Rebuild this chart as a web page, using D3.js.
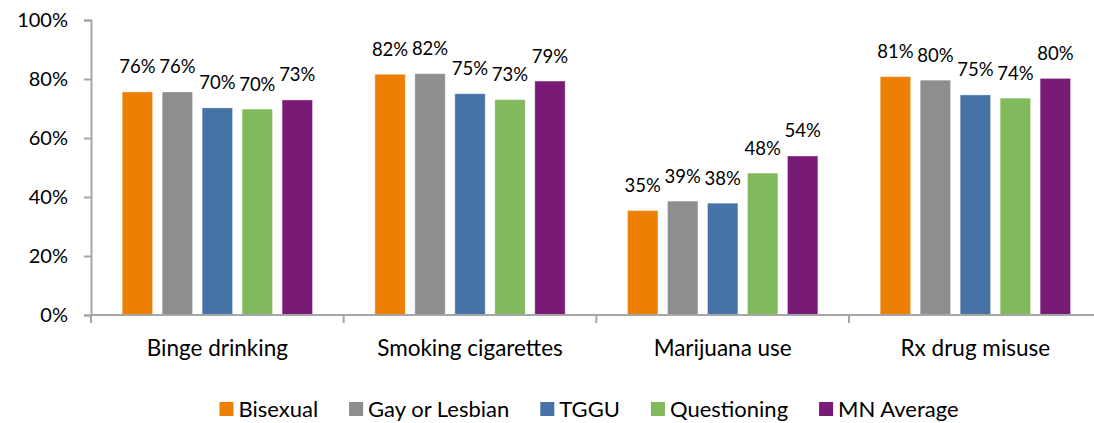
<!DOCTYPE html>
<html>
<head>
<meta charset="utf-8">
<script src="https://cdn.jsdelivr.net/npm/d3@7"></script>
<style>
  body { margin: 0; background: #fff; }
  svg { display: block; font-family: Lato, "Open Sans", sans-serif; }
</style>
</head>
<body>
<svg id="chart" width="1094" height="423"></svg>
<script>
// chart data
const categories = ["Binge drinking", "Smoking cigarettes", "Marijuana use", "Rx drug misuse"];
const seriesNames = ["Bisexual", "Gay or Lesbian", "TGGU", "Questioning", "MN Average"];
const bisexual = [75.6, 81.6, 35.4, 80.8];
const gayLesbian = [75.6, 81.8, 38.6, 79.6];
const tggu = [70.2, 75.0, 37.9, 74.6];
const questioning = [69.8, 73.0, 48.1, 73.5];
const mnAverage = [72.9, 79.3, 53.9, 80.2];
const yTicks = [0, 20, 40, 60, 80, 100];

const seriesValues = [bisexual, gayLesbian, tggu, questioning, mnAverage];
const colors = ["#ED7F05", "#8E8E8E", "#4572A7", "#80BA5C", "#7A1A77"];

const svg = d3.select("#chart");
const axisColor = "#A6A6A6";

const x0 = d3.scaleBand()
	.domain(categories)
	.range([91, 1101.7]);

const x1 = d3.scaleBand()
	.domain(seriesNames)
	.range([0, x0.bandwidth()])
	.paddingInner(0.24)
	.paddingOuter(0.78);

const y = d3.scaleLinear()
	.domain([0, 100])
	.range([315, 20]);

// rows for drawing
const rows = [];
categories.forEach((c, ci) => {
	seriesNames.forEach((s, si) => {
		rows.push({cat: c, series: s, value: seriesValues[si][ci], color: colors[si]});
	});
});

// y axis
const yAxis = d3.axisLeft(y)
	.tickValues(yTicks)
	.tickSize(7)
	.tickPadding(16)
	.tickFormat(d => d + "%");

const yg = svg.append("g")
	.attr("transform", "translate(91,0)")
	.call(yAxis);
yg.select(".domain").attr("stroke", axisColor).attr("stroke-width", 2);
yg.selectAll(".tick line").attr("stroke", axisColor).attr("stroke-width", 2);
yg.selectAll(".tick text")
	.attr("fill", "#000")
	.style("font-size", "20px")
	.style("font-family", "Lato, sans-serif");

// bars
const bars = svg.append("g");
bars.selectAll("rect")
	.data(rows)
	.enter()
	.append("rect")
	.attr("x", d => x0(d.cat) + x1(d.series))
	.attr("y", d => y(d.value))
	.attr("width", x1.bandwidth())
	.attr("height", d => y(0) - y(d.value))
	.attr("fill", d => d.color)
	.attr("stroke", "#fff")
	.attr("stroke-opacity", 0.35)
	.attr("stroke-width", 1);

// value labels
svg.append("g").selectAll("text")
	.data(rows)
	.enter()
	.append("text")
	.attr("x", d => x0(d.cat) + x1(d.series) + x1.bandwidth() / 2)
	.attr("y", d => y(d.value) - 18.5)
	.attr("text-anchor", "middle")
	.style("font-size", "18.5px")
	.text(d => Math.round(d.value) + "%");

// x axis
const xg = svg.append("g");
xg.append("line")
	.attr("x1", 91).attr("x2", 1101.7)
	.attr("y1", y(0)).attr("y2", y(0))
	.attr("stroke", axisColor).attr("stroke-width", 2);
const boundaries = categories.map(c => x0(c)).concat([x0.range()[1]]);
xg.selectAll("line.tk")
	.data(boundaries)
	.enter()
	.append("line")
	.attr("class", "tk")
	.attr("x1", d => d).attr("x2", d => d)
	.attr("y1", y(0)).attr("y2", y(0) + 8)
	.attr("stroke", axisColor).attr("stroke-width", 2);
xg.selectAll("text")
	.data(categories)
	.enter()
	.append("text")
	.attr("x", d => x0(d) + x0.bandwidth() / 2)
	.attr("y", 356)
	.attr("text-anchor", "middle")
	.style("font-size", "22.5px")
	.text(d => d);

// legend
const legend = svg.append("g");
const items = legend.selectAll("g")
	.data(seriesNames)
	.enter()
	.append("g");
items.append("rect")
	.attr("width", 14).attr("height", 14)
	.attr("y", 402)
	.attr("fill", (d, i) => colors[i]);
items.append("text")
	.attr("x", 19)
	.attr("y", 417)
	.style("font-size", "22px")
	.text(d => d);

let cursor = 0;
const offsets = [];
items.each(function() {
	offsets.push(cursor);
	const w = d3.select(this).select("text").node().getComputedTextLength();
	cursor += 19 + w + 31;
});
const totalW = cursor - 31;
const startX = 589 - totalW / 2;
items.attr("transform", (d, i) => "translate(" + (startX + offsets[i]) + ",0)");
</script>
</body>
</html>
